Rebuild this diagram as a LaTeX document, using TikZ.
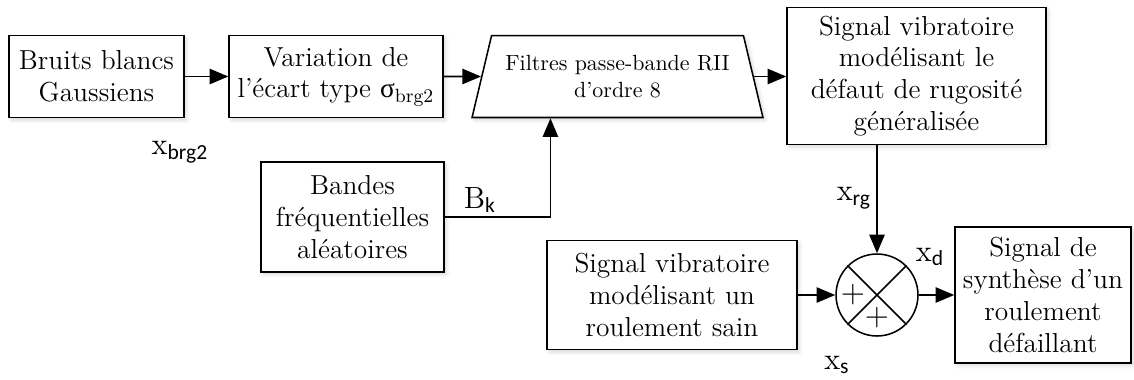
\documentclass[tikz,border=0pt]{standalone}
\usepackage{fontspec}
\newfontfamily\subfont{Carlito}
\newfontfamily\grkfont{Liberation Serif}
\usetikzlibrary{positioning, calc}
\usetikzlibrary{arrows.meta}
\usetikzlibrary{shapes.geometric}
\usetikzlibrary{shadows.blur}

% indice en police sans
\newcommand{\xsub}[2]{#1\textsubscript{\subfont #2}}

\tikzset{
  bloc/.style={draw, rectangle, align=center, fill=white,
    blur shadow={shadow xshift=1.2pt, shadow yshift=-1.2pt, shadow opacity=15}},
  lbl/.style={font=\fontsize{14}{16}\selectfont, inner sep=0pt},
  signe/.style={font=\Large, inner sep=0pt}
}

\begin{document}
\begin{tikzpicture}[x=0.016cm,y=-0.016cm,>={Triangle[length=8.5pt,width=7pt]},
  line width=0.7pt,font=\fontsize{12.5}{14.5}\selectfont]

\useasboundingbox (0,0) rectangle (1134,379);

% ---- chaine du haut ----
\node[bloc, minimum width=2.8cm, minimum height=1.312cm] (bruits) at (96.5,76.5)
  {Bruits blancs\\Gaussiens};
\node[bloc, minimum width=3.424cm, minimum height=1.312cm] (ecart) at (336,76.5)
  {Variation de\\l’écart type {\grkfont σ}\textsubscript{brg2}};
\node[draw, trapezium, trapezium stretches body, trapezium angle=71, fill=white,
  minimum width=4.656cm, minimum height=1.312cm, align=center, font=\normalsize,
  blur shadow={shadow xshift=1.2pt, shadow yshift=-1.2pt, shadow opacity=15}]
  (filtre) at (617.5,76.5) {Filtres passe-bande RII\\d’ordre 8};
\node[bloc, minimum width=4.144cm, minimum height=2.192cm] (defaut) at (916.5,76)
  {Signal vibratoire\\modélisant le\\défaut de rugosité\\généralisée};

% ---- bandes ----
\node[bloc, minimum width=2.928cm, minimum height=1.76cm] (bandes) at (352.5,217)
  {Bandes\\fréquentielles\\aléatoires};
\coordinate (entreeB) at ($(filtre.bottom left corner)!0.271!(filtre.bottom right corner)$);

% ---- sommateur et sortie ----
\node[bloc, minimum width=4.0cm, minimum height=1.744cm] (sain) at (672,295)
  {Signal vibratoire\\modélisant un\\roulement sain};
\node[draw, circle, minimum size=1.312cm, inner sep=0pt] (somme) at (877,295) {};
\node[bloc, minimum width=2.816cm, minimum height=2.176cm] (synthese) at (1043,295)
  {Signal de\\synthèse d’un\\roulement\\défaillant};

\draw (somme.north west) -- (somme.south east);
\draw (somme.north east) -- (somme.south west);
\node[signe] (plusG) at ($(somme.center)+(-24,0)$) {$+$};
\node[signe] (plusB) at ($(somme.center)+(0,23)$) {$+$};

% ---- liaisons ----
\draw[->] (bruits.east) -- (ecart.west);
\draw[->] (ecart.east) -- (filtre.west);
\draw[->] (filtre.east) -- (defaut.west |- filtre.east);
\draw[->] (bandes.east) -| (entreeB);
\draw[->] (somme.north |- defaut.south) -- (somme.north);
\draw[->] (sain.east) -- (somme.west);
\draw[->] (somme.east) -- (synthese.west);

% ---- etiquettes ----
\node[lbl] (lblBrg) at (180,152) {\xsub{x}{brg2}};
\node[lbl] (lblBk) at (480,200) {\xsub{B}{k}};
\node[lbl] (lblRg) at (854,198) {\xsub{x}{rg}};
\node[lbl] (lblD) at (930,257) {\xsub{x}{d}};
\node[lbl] (lblS) at (837,365) {\xsub{x}{s}};

\end{tikzpicture}
\end{document}
